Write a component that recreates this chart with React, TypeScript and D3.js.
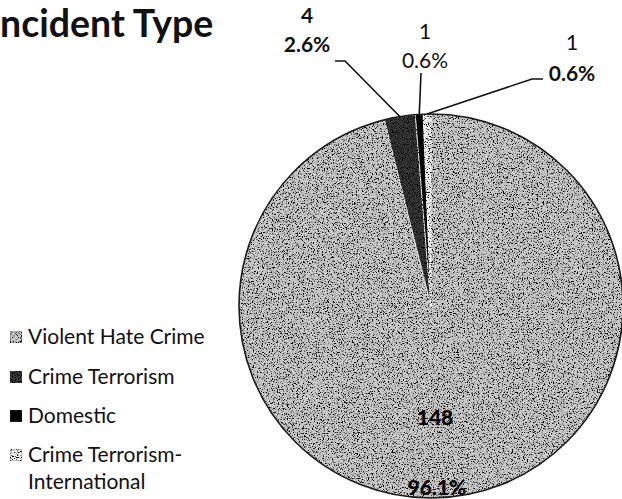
import React from "react";
import * as d3 from "d3";

const categories = ["Violent Hate Crime", "Crime Terrorism", "Domestic", "Crime Terrorism-International"];
const values = [148, 4, 1, 1];
const titleText = "ncident Type";

const W = 622;
const H = 499;
const cx = 431;
const cy = 306;
const R = 192;

const fills = ["#c8c8c8", "#363636", "#050505", "#f2f2f2"];

// outside label layout (annotation placement, per slice index)
const outsideLabels = [
  { i: 1, x: 307, y: 23, gap: 29, w1: 700, w2: 700, leader: [[335, 61], [345, 61]] },
  { i: 2, x: 425, y: 39, gap: 29, w1: 400, w2: 400, leader: [[421, 73]] },
  { i: 3, x: 572, y: 50, gap: 31, w1: 400, w2: 700, leader: [[543, 79], [532, 79]] },
];

export default function App() {
  const total = d3.sum(values);
  const pie = d3.pie<number>().sort(null).startAngle(0).endAngle(2 * Math.PI);
  const arcs = pie(values);
  const arcGen = d3.arc<d3.PieArcDatum<number>>().innerRadius(0).outerRadius(R);
  const pct = (v: number) => d3.format(".1%")(v / total);
  const edgePoint = (a: d3.PieArcDatum<number>) => {
    const m = (a.startAngle + a.endAngle) / 2;
    return [cx + R * Math.sin(m), cy - R * Math.cos(m)];
  };
  const font = "Lato, 'Open Sans', sans-serif";

  const legendY = [337, 377, 416, 455];
  return (
    <div style={{ position: "absolute", left: 0, top: 0, width: W, height: H, background: "#fff" }}>
      <svg width={W} height={H} style={{ display: "block" }}>
        <defs>
          <filter id="grain" x="0" y="0" width="100%" height="100%" filterUnits="objectBoundingBox">
            <feTurbulence type="fractalNoise" baseFrequency="0.8" numOctaves="2" seed="7" result="noise" />
            <feColorMatrix
              in="noise"
              type="matrix"
              values="0 0 0 0 0  0 0 0 0 0  0 0 0 0 0  7 0 0 0 -3.62"
              result="dots"
            />
            <feComposite in="dots" in2="SourceGraphic" operator="in" result="clipped" />
            <feMerge>
              <feMergeNode in="SourceGraphic" />
              <feMergeNode in="clipped" />
            </feMerge>
          </filter>
        </defs>
        <rect width={W} height={H} fill="#fff" />
        <text x={0} y={37} fontFamily={font} fontWeight={700} fontSize={37.5} fill="#111">
          {titleText}
        </text>
        <g transform={`translate(${cx},${cy})`}>
          <g filter="url(#grain)">
            {arcs.map((a, k) => (
              <path key={k} d={arcGen(a) || ""} fill={fills[k]} stroke="#fff" strokeWidth={k === 0 ? 0 : 0.8} />
            ))}
          </g>
          <circle r={R} fill="none" stroke="#1a1a1a" strokeWidth={1.6} />
        </g>
        {outsideLabels.map((l, k) => {
          const a = arcs[l.i];
          const p = edgePoint(a);
          const pts = [...l.leader, p];
          return (
            <g key={k}>
              <path d={d3.line()(pts as [number, number][]) || ""} fill="none" stroke="#111" strokeWidth={1.6} />
              <text x={l.x} y={l.y} textAnchor="middle" fontFamily={font} fontSize={21} fontWeight={l.w1} fill="#111">
                {values[l.i]}
              </text>
              <text x={l.x} y={l.y + l.gap} textAnchor="middle" fontFamily={font} fontSize={21} fontWeight={l.w2} fill="#111">
                {pct(values[l.i])}
              </text>
            </g>
          );
        })}
        <text x={435} y={425} textAnchor="middle" fontFamily={font} fontSize={21} fontWeight={900} fill="#000">
          {values[0]}
        </text>
        <text x={437} y={495} textAnchor="middle" fontFamily={font} fontSize={21} fontWeight={900} fill="#000">
          {pct(values[0])}
        </text>
        {categories.map((c, k) => {
          const parts = c.includes("-") ? [c.slice(0, c.indexOf("-") + 1), c.slice(c.indexOf("-") + 1)] : [c];
          const y = legendY[k];
          return (
            <g key={c}>
              <rect x={10} y={y - 6} width={12} height={12} fill={fills[k]} stroke="#555" strokeWidth={0.6} filter="url(#grain)" />
              {parts.map((p, j) => (
                <text key={j} x={28} y={y + 7 + j * 27} fontFamily={font} fontSize={21} fill="#111">
                  {p}
                </text>
              ))}
            </g>
          );
        })}
      </svg>
    </div>
  );
}
